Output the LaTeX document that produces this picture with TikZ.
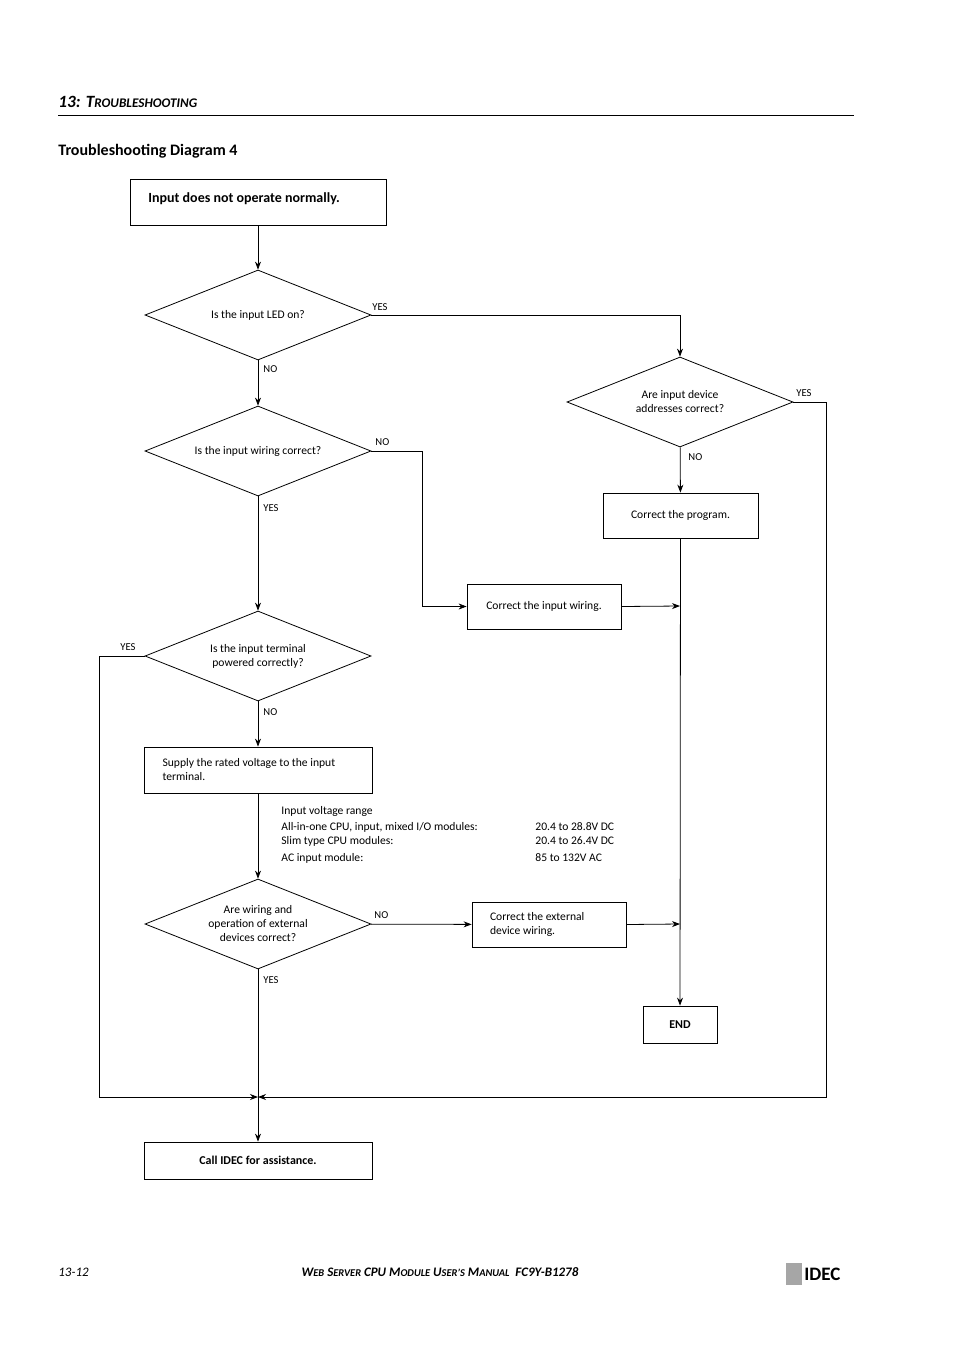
\documentclass[tikz,border=0pt]{standalone}
\usepackage{fontspec}
\setmainfont{Carlito}
\usetikzlibrary{shapes.geometric,arrows.meta}
\newcommand\myscA[1]{{\fontsize{6.6}{8}\selectfont\uppercase{#1}}}
\newcommand\myscB[1]{{\fontsize{5.2}{7}\selectfont\uppercase{#1}}}
\begin{document}
\begin{tikzpicture}[x=0.5pt,y=-0.5pt,
  every node/.style={font=\fontsize{5.8}{7}\selectfont},
  box/.style={draw,line width=0.4pt,inner sep=0pt},
  dia/.style={draw,diamond,aspect=2.5,minimum width=113pt,minimum height=45pt,inner sep=0pt,align=center},
  lab/.style={anchor=west,inner sep=0pt,font=\fontsize{5.3}{6}\selectfont},
  ar/.style={-{Stealth[length=4pt,width=3pt]},line width=0.4pt}]
\useasboundingbox (0,0) rectangle (954,1350);
\node[anchor=west,inner sep=0pt,font=\fontsize{8.6}{10}\selectfont\bfseries\itshape] (hdr) at (58,102) {13: T\myscA{roubleshooting}};
\draw[line width=0.5pt] (58,115) -- (854,115);
\node[anchor=west,inner sep=0pt,font=\fontsize{8}{9}\selectfont\bfseries] (ttl) at (58,151) {Troubleshooting Diagram 4};
% boxes
\node[box,minimum width=128pt,minimum height=23pt,font=\fontsize{7}{8}\selectfont\bfseries] (start) at (258,202) {};
\node[anchor=west,inner sep=0pt,font=\fontsize{7}{8}\selectfont\bfseries] (starttxt) at (148,199) {Input does not operate normally.};
\node[dia] (d1) at (258,315) {Is the input LED on?};
\node[dia] (d2) at (258,451) {Is the input wiring correct?};
\node[dia] (d3) at (258,656) {Is the input terminal\\powered correctly?};
\node[dia] (d4) at (258,924) {Are wiring and\\operation of external\\devices correct?};
\node[dia] (dr) at (680,402) {Are input device\\addresses correct?};
\node[box,minimum width=77.5pt,minimum height=22.5pt] (prog) at (680.5,515.5) {Correct the program.};
\node[box,minimum width=77pt,minimum height=22.5pt] (iw) at (544,606.5) {Correct the input wiring.};
\node[box,minimum width=114pt,minimum height=23pt,align=flush left,text width=95.5pt] (sup) at (258,770) {Supply the rated voltage to the input\\terminal.};
\node[box,minimum width=77pt,minimum height=22.5pt,align=flush left,text width=59pt] (ext) at (549,924.5) {Correct the external\\device wiring.};
\node[box,minimum width=37pt,minimum height=18.5pt,font=\fontsize{6}{7}\selectfont\bfseries] (end) at (680,1024.5) {END};
\node[box,minimum width=114pt,minimum height=18.5pt,font=\fontsize{6}{7}\selectfont\bfseries] (call) at (258,1160.5) {Call IDEC for assistance.};
\coordinate (j) at (258,1097);
\coordinate (m1) at (680,606);
\coordinate (m2) at (680,924);
% connectors
\draw[ar] (start) -- (d1);
\draw[ar] (d1.east) -| (dr.north);
\draw[ar] (d1) -- (d2);
\draw[ar] (d2.east) -- (422,451) |- (iw.west);
\draw[ar] (d2) -- (d3);
\draw[ar] (dr) -- (prog);
\draw[ar] (dr.east) -- (826,402) |- (j);
\draw[ar] (prog) -- (end);
\draw[ar] (iw.east) -- (m1);
\draw[ar] (ext.east) -- (m2);
\draw[ar] (d3.west) -- (99,656) |- (j);
\draw[ar] (d3) -- (sup);
\draw[ar] (sup) -- (d4);
\draw[ar] (d4) -- (ext);
\draw[ar] (d4) -- (call);
% labels
\node[lab] (l1) at (372,307) {YES};
\node[lab] (l2) at (263,369) {NO};
\node[lab] (l3) at (375,442) {NO};
\node[lab] (l4) at (263,508) {YES};
\node[lab] (l5) at (688,457) {NO};
\node[lab] (l6) at (796,393) {YES};
\node[lab] (l7) at (120,647) {YES};
\node[lab] (l8) at (263,712) {NO};
\node[lab] (l9) at (374,915) {NO};
\node[lab] (l10) at (263,980) {YES};
% voltage text
\node[lab,font=\fontsize{5.8}{7}\selectfont] (v0) at (281,811) {Input voltage range};
\node[lab,font=\fontsize{5.8}{7}\selectfont] (v1) at (281,827) {All-in-one CPU, input, mixed I/O modules:};
\node[lab,font=\fontsize{5.8}{7}\selectfont] (v2) at (281,841) {Slim type CPU modules:};
\node[lab,font=\fontsize{5.8}{7}\selectfont] (v3) at (281,858) {AC input module:};
\node[lab,font=\fontsize{5.8}{7}\selectfont] (w1) at (535,827) {20.4 to 28.8V DC};
\node[lab,font=\fontsize{5.8}{7}\selectfont] (w2) at (535,841) {20.4 to 26.4V DC};
\node[lab,font=\fontsize{5.8}{7}\selectfont] (w3) at (535,858) {85 to 132V AC};
% footer
\node[lab,font=\fontsize{6.5}{8}\selectfont\itshape] (f1) at (58,1272) {13-12};
\node[inner sep=0pt,font=\fontsize{6.5}{8}\selectfont\bfseries\itshape] (f2) at (440,1272) {W\myscB{eb} S\myscB{erver} CPU M\myscB{odule} U\myscB{ser's} M\myscB{anual}\ \ FC9Y-B1278};
\fill[gray!70] (786,1263) rectangle (802,1285);
\node[lab,font=\fontsize{9.5}{10}\selectfont\bfseries] (logo) at (804,1274) {IDEC};
\end{tikzpicture}
\end{document}
